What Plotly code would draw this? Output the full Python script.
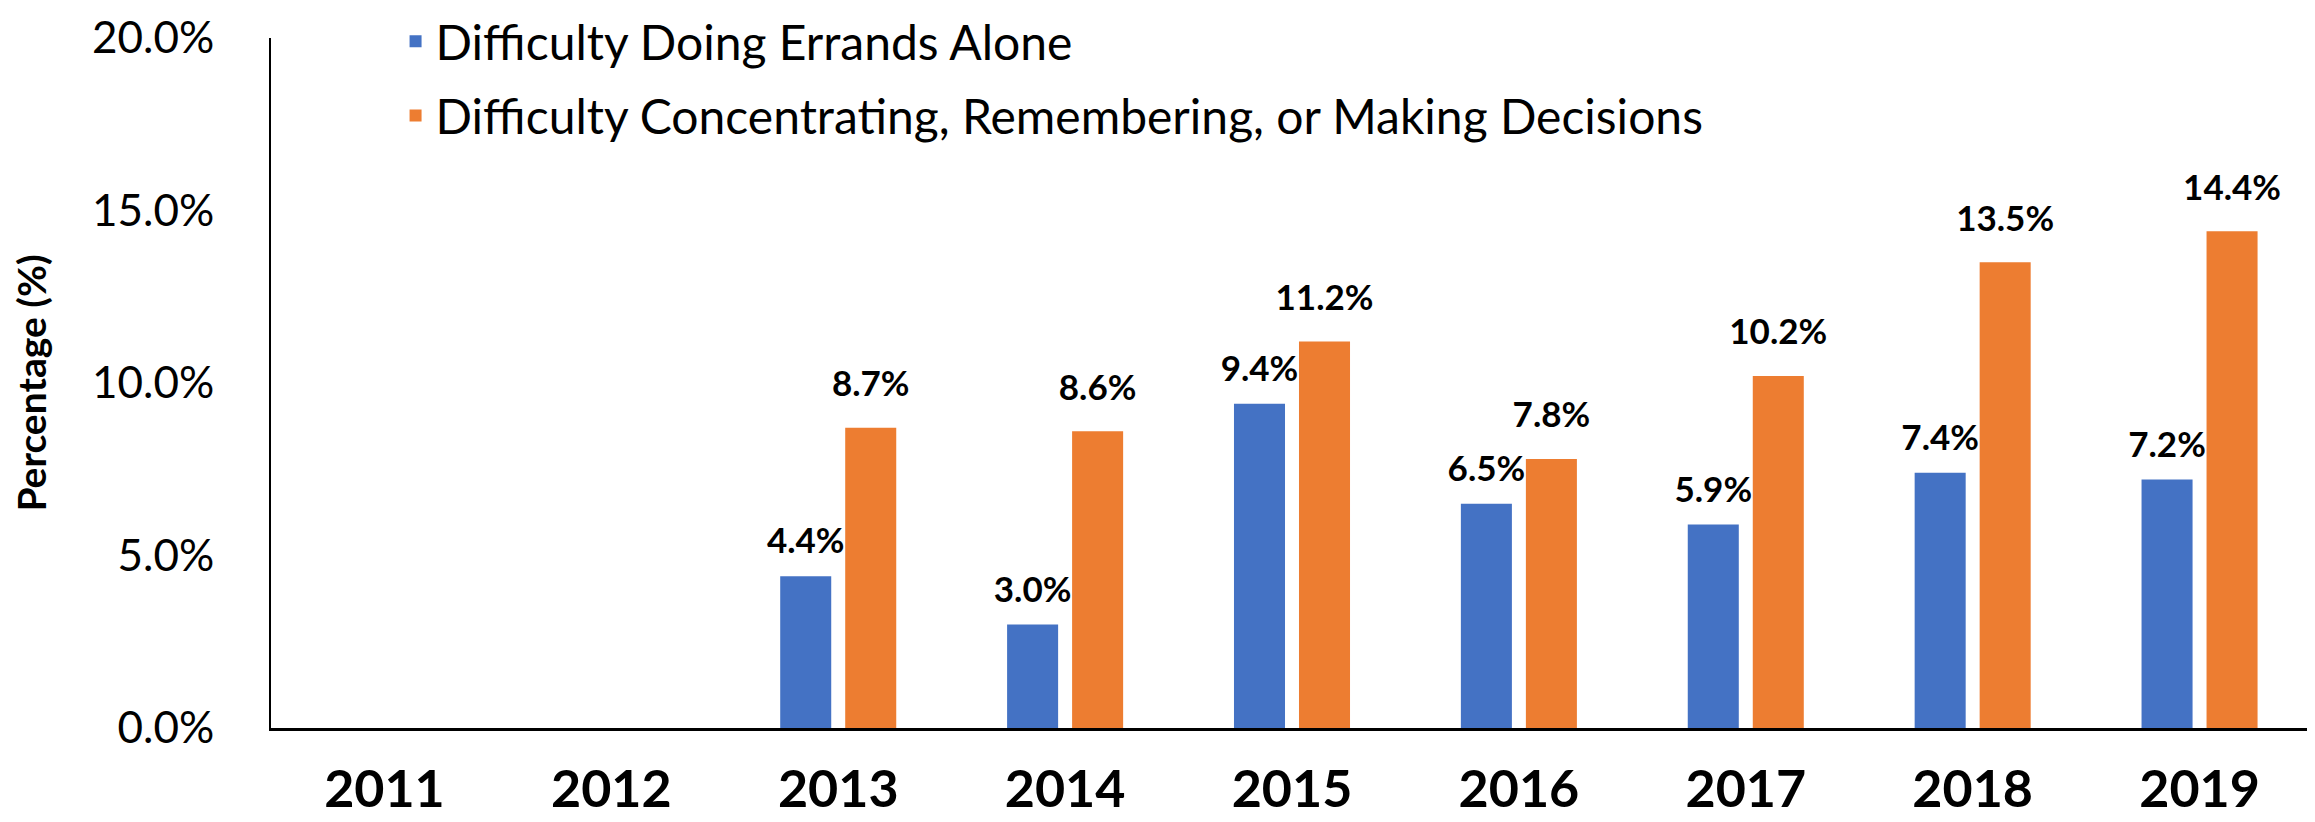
import plotly.graph_objects as go

years = ["2011", "2012", "2013", "2014", "2015", "2016", "2017", "2018", "2019"]
errands = [None, None, 4.4, 3.0, 9.4, 6.5, 5.9, 7.4, 7.2]
concentrating = [None, None, 8.7, 8.6, 11.2, 7.8, 10.2, 13.5, 14.4]
series_names = [
    "Difficulty Doing Errands Alone",
    "Difficulty Concentrating, Remembering, or Making Decisions",
]
colors = ["#4472C4", "#ED7D31"]
y_ticks = [0, 5, 10, 15, 20]
y_tick_text = ["0.0%", "5.0%", "10.0%", "15.0%", "20.0%"]
y_title = "Percentage (%)"

FONT = "Lato"


def labels(vals):
    return ["" if v is None else f"{v:.1f}%" for v in vals]


series = [errands, concentrating]
groups = ["a", "b"]
label_pad = [21, 35]  # invisible marker sizes that lift labels off the bars

fig = go.Figure()
for name, vals, col, grp in zip(series_names, series, colors, groups):
    fig.add_trace(go.Bar(
        x=years, y=vals, name=name, marker=dict(color=col, line=dict(width=0)),
        offsetgroup=grp, legendgroup=grp, hoverinfo="skip",
    ))
for vals, grp, pad in zip(series, groups, label_pad):
    fig.add_trace(go.Scatter(
        x=years, y=vals, mode="markers+text", text=labels(vals),
        textposition="top center",
        textfont=dict(family=FONT, size=35, color="black", weight="bold"),
        marker=dict(size=pad, opacity=0),
        offsetgroup=grp, showlegend=False, hoverinfo="skip", cliponaxis=False,
    ))

fig.update_layout(
    width=2315, height=822,
    margin=dict(l=263, r=10, t=30, b=102, autoexpand=False),
    paper_bgcolor="white", plot_bgcolor="white",
    barmode="group", bargap=0.427, bargroupgap=0.215,
    scattermode="group", scattergap=0.427,
    font=dict(family=FONT, color="black"),
    legend=dict(
        x=0.061, y=1.05, xanchor="left", yanchor="top",
        font=dict(family=FONT, size=48, color="black"),
        tracegroupgap=9, bgcolor="rgba(0,0,0,0)",
    ),
    xaxis=dict(
        type="category", showline=True, linecolor="black", linewidth=3,
        showgrid=False, zeroline=False, ticks="", ticklabelstandoff=14,
        tickfont=dict(family=FONT, size=52, color="black", weight="bold"),
    ),
    yaxis=dict(
        range=[0, 20], tickvals=y_ticks, ticktext=y_tick_text,
        showline=True, linecolor="black", linewidth=2,
        showgrid=False, zeroline=False, ticks="", ticklabelstandoff=46,
        tickfont=dict(family=FONT, size=44, color="black"),
        title=dict(text=y_title, standoff=37,
                   font=dict(family=FONT, size=39, color="black", weight="bold")),
    ),
)

fig.write_html("out.html")
